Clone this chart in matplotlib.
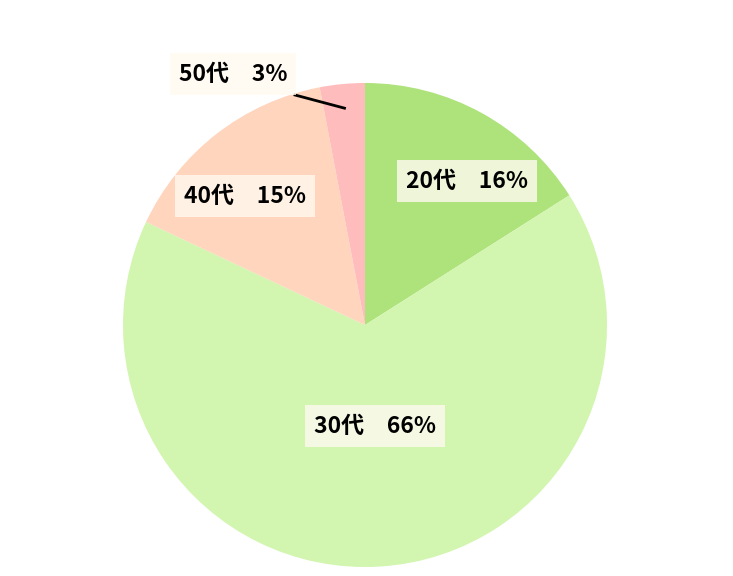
import numpy as np
import matplotlib.pyplot as plt

plt.rcParams['font.family'] = ['Noto Sans CJK JP', 'DejaVu Sans']

# data
ages = ['20代', '30代', '40代', '50代']
shares = [16, 66, 15, 3]
colors = ['#AEE27A', '#D2F5B0', '#FFD5BE', '#FFBCBC']

# label centres in pixels measured from the top-left corner
label_pos = [(467, 181), (375, 426), (245, 196), (233, 74)]

W, H = 733, 576
cx, cy, R = 365, 325, 242

fig = plt.figure(figsize=(W / 100, H / 100), dpi=100)
ax = fig.add_axes([0, 0, 1, 1])
ax.set_xlim(0, W)
ax.set_ylim(0, H)
ax.set_aspect('equal')
ax.axis('off')

wedges, _ = ax.pie(shares, colors=colors, startangle=90, counterclock=False,
                   center=(cx, H - cy), radius=R,
                   wedgeprops=dict(linewidth=0))
ax.set_xlim(0, W)
ax.set_ylim(0, H)

box = dict(boxstyle='square,pad=0.4', facecolor='#FFFAF0', alpha=0.8, edgecolor='none')
for i, (name, val) in enumerate(zip(ages, shares)):
    x, y = label_pos[i]
    txt = name + '\u3000' + str(val) + '%'
    if i == 3:
        # small slice: leader line to the wedge
        w = wedges[i]
        mid = np.deg2rad((w.theta1 + w.theta2) / 2)
        tip = (cx + 0.9 * R * np.cos(mid), H - cy + 0.9 * R * np.sin(mid))
        ax.plot([295, tip[0]], [H - 95, tip[1]], color='black', lw=2)
    ax.text(x, H - y, txt, ha='center', va='center', fontsize=16.5,
            fontweight='bold', bbox=box)

fig.savefig('out.png', dpi=100)
